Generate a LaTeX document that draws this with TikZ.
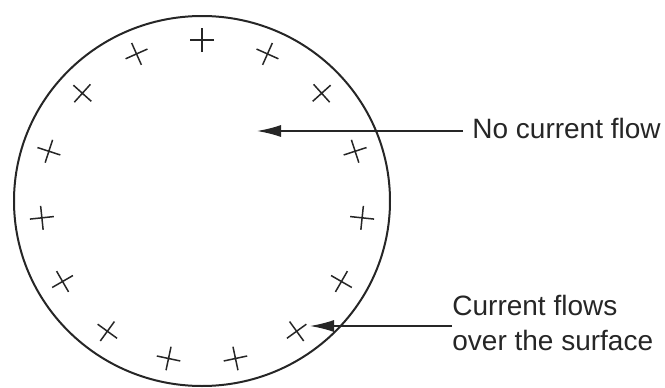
\documentclass[tikz,border=0pt]{standalone}
\usepackage{fontspec}
\setmainfont{Liberation Sans}
\usetikzlibrary{arrows.meta,positioning}

\begin{document}
\begin{tikzpicture}[
    x=0.5pt, y=0.5pt,
    wire/.style={line width=1pt, draw=black!85},
    xmark/.style={line width=0.75pt, draw=black!85},
    lbl/.style={font=\fontsize{14}{17.5}\selectfont, text=black!85, align=left, inner sep=0pt},
    arr/.style={-{Latex[length=12pt, width=6pt]}, line width=0.7pt, draw=black!85}
]
\useasboundingbox (0,0) rectangle (665,387);
\coordinate (c) at (202,186);
% conductor cross section
\draw[wire] (c) ellipse [x radius=188, y radius=185];
% charges near the surface
\foreach \k in {0,...,14}{
  \pgfmathsetmacro{\ang}{90+24*\k}
  \draw[xmark, shift={(c)}, rotate=\ang] (161,-12) -- (161,12) (149,0) -- (173,0);
}
\coordinate (nc) at (257,256);
\coordinate (sc) at (310,61);
\node[lbl, inner xsep=4.5pt, anchor=base west] (noflow) at (463,249) {No current flow};
\node[lbl, anchor=west] (surf) at (452,64) {Current flows\\over the surface};
\draw[arr] (noflow.west |- nc) -- (nc);
\draw[arr] (surf.west |- sc) -- (sc);
\end{tikzpicture}
\end{document}
